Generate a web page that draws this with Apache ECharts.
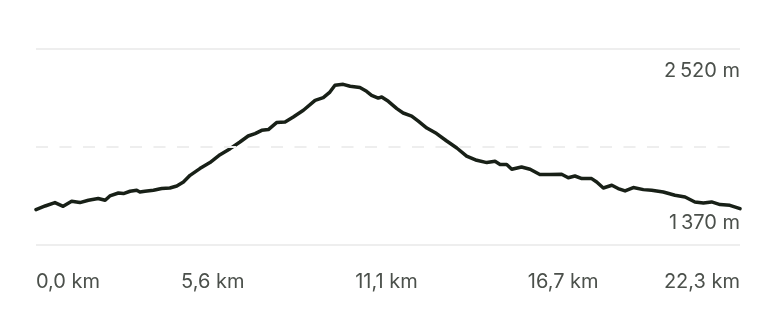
<!DOCTYPE html>
<html>
<head>
<meta charset="utf-8">
<script src="https://cdn.jsdelivr.net/npm/echarts@6/dist/echarts.min.js"></script>
<style>
  html, body { margin: 0; padding: 0; background: #ffffff; }
  #chart { width: 775px; height: 335px; }
</style>
</head>
<body>
<div id="chart"></div>
<script>
// Distance along the route (km)
const distanceKm = [0, 0.29, 0.60, 0.86, 1.13, 1.39, 1.66, 1.97, 2.19, 2.34, 2.61, 2.77, 2.98, 3.19, 3.29, 3.45, 3.72, 3.98, 4.24, 4.46, 4.67, 4.88, 5.19, 5.51, 5.83, 6.15, 6.46, 6.72, 6.94, 7.15, 7.36, 7.62, 7.89, 8.15, 8.47, 8.84, 9.10, 9.31, 9.47, 9.73, 9.95, 10.26, 10.47, 10.63, 10.84, 10.95, 11.16, 11.43, 11.63, 11.90, 12.11, 12.38, 12.69, 13.01, 13.33, 13.64, 13.96, 14.28, 14.54, 14.70, 14.91, 15.07, 15.38, 15.65, 15.96, 16.28, 16.65, 16.86, 17.07, 17.29, 17.60, 17.76, 17.97, 18.24, 18.44, 18.66, 18.92, 19.24, 19.50, 19.87, 20.24, 20.56, 20.87, 21.14, 21.40, 21.67, 21.98, 22.30];
// Elevation (m)
const elevationM = [1370, 1404, 1435, 1401, 1447, 1435, 1456, 1472, 1456, 1496, 1523, 1518, 1539, 1548, 1532, 1539, 1548, 1564, 1569, 1587, 1624, 1685, 1747, 1802, 1875, 1930, 1991, 2046, 2068, 2098, 2105, 2169, 2174, 2220, 2282, 2373, 2398, 2449, 2511, 2520, 2502, 2490, 2456, 2419, 2394, 2404, 2364, 2297, 2257, 2229, 2183, 2119, 2068, 2000, 1936, 1862, 1823, 1802, 1814, 1784, 1784, 1741, 1762, 1741, 1692, 1692, 1695, 1663, 1679, 1655, 1655, 1624, 1569, 1594, 1564, 1542, 1573, 1554, 1548, 1532, 1502, 1486, 1441, 1431, 1441, 1417, 1410, 1380];
// Axis tick labels
const xTickKm = [0, 5.6, 11.1, 16.7, 22.3];
const yLabelM = [2520, 1370];
// Axis extent
const yMin = 1046, yMax = 2844;

const fmtKm = v => v.toFixed(1).replace('.', ',') + ' km';
const fmtM = v => String(v).replace(/\B(?=(\d{3})+(?!\d))/g, '\u2009') + ' m';

const textColor = '#4b504b';
const fontFamily = 'Inter';
const fontSize = 20;
const gridColor = '#eeeeee';
const hidden = 'rgba(0,0,0,0)';

const chart = echarts.init(document.getElementById('chart'), null, { renderer: 'canvas' });
chart.setOption({
  animation: false,
  backgroundColor: '#ffffff',
  grid: { left: 36, right: 35, top: 49, bottom: 90, containLabel: false },
  xAxis: {
    type: 'value', min: 0, max: xTickKm[xTickKm.length - 1],
    axisLine: { show: false }, axisTick: { show: false }, splitLine: { show: false },
    axisLabel: {
      customValues: xTickKm,
      formatter: fmtKm,
      color: textColor, fontFamily: fontFamily, fontSize: fontSize,
      margin: 27,
      alignMinLabel: 'left', alignMaxLabel: 'right'
    }
  },
  yAxis: {
    type: 'value', min: yMin, max: yMax,
    axisLine: { show: false }, axisTick: { show: false }, splitLine: { show: false },
    axisLabel: { show: false }
  },
  series: [
    {
      type: 'line', data: [], z: 1, silent: true,
      markLine: {
        silent: true, symbol: ['none', 'none'], animation: false,
        label: { show: false },
        lineStyle: { color: gridColor, width: 2, type: 'solid' },
        data: [
          { yAxis: yMax },
          { yAxis: (yMin + yMax) / 2, lineStyle: { type: [12, 11.5], color: gridColor, width: 2 } },
          { yAxis: yMin },
          { yAxis: yLabelM[0], lineStyle: { color: hidden, width: 0 },
            label: { show: true, position: 'insideEndTop', formatter: fmtM(yLabelM[0]), color: textColor, fontFamily: fontFamily, fontSize: fontSize, distance: [0, 3] } },
          { yAxis: yLabelM[1], lineStyle: { color: hidden, width: 0 },
            label: { show: true, position: 'insideEndBottom', formatter: fmtM(yLabelM[1]), color: textColor, fontFamily: fontFamily, fontSize: fontSize, distance: [0, 3] } }
        ]
      }
    },
    {
      type: 'line', z: 3,
      data: distanceKm.map((d, i) => [d, elevationM[i]]),
      showSymbol: false, smooth: false,
      lineStyle: { color: '#182017', width: 3.5, join: 'round', cap: 'round' }
    }
  ]
});
</script>
</body>
</html>
